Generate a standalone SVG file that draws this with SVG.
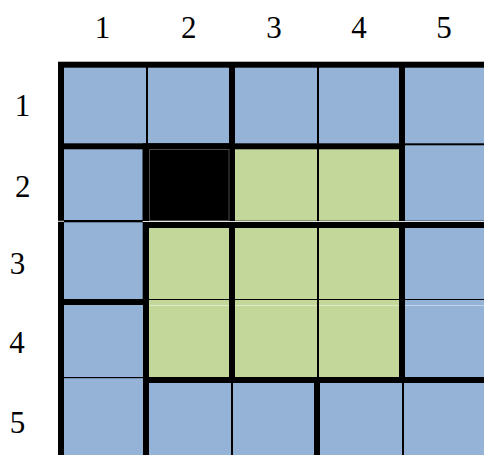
<svg xmlns="http://www.w3.org/2000/svg" width="484" height="455" viewBox="0 0 484 455">
<style>
.b{fill:#95B3D7}
.g{fill:#C4D79B}
.k{fill:#000}
.t{font-family:"Liberation Serif","Times New Roman",serif;font-size:31px;fill:#000;text-anchor:middle}
.w{fill:#fff;opacity:0.55}
</style>
<rect id="frame" x="58" y="61.7" width="426" height="393.3" fill="#000"/>
<g id="row1">
<rect id="c11" class="b" x="64" y="67.7" width="82" height="75.6"/>
<rect id="c12" class="b" x="148" y="67.7" width="81" height="75.6"/>
<rect id="c13" class="b" x="235" y="67.7" width="82" height="75.6"/>
<rect id="c14" class="b" x="319" y="67.7" width="80" height="75.6"/>
<rect id="c15" class="b" x="405" y="67.7" width="79" height="75.6"/>
</g>
<g id="row2">
<rect id="c21" class="b" x="64" y="149.3" width="78.7" height="70.7"/>
<g id="c22">
<rect class="k" x="142.7" y="143.3" width="92.3" height="78"/>
<rect x="149.5" y="149.5" width="79.5" height="71" fill="none" stroke="#4a4a4a" stroke-width="1"/>
</g>
<rect id="c23" class="g" x="235" y="149.3" width="82" height="71.4"/>
<rect id="c24" class="g" x="319" y="149.3" width="80" height="71.4"/>
<rect id="c25" class="b" x="405" y="145.3" width="79" height="75.4"/>
</g>
<g id="seams">
<rect fill="#fff" x="58" y="220.8" width="6" height="0.9"/>
<rect fill="#fff" x="142.7" y="221" width="341.3" height="0.9"/>
</g>
<g id="row3">
<rect id="c31" class="b" x="64" y="222.3" width="78.7" height="76.7"/>
<rect id="c32" class="g" x="149" y="228" width="80" height="71"/>
<rect id="c33" class="g" x="235" y="228" width="82" height="71"/>
<rect id="c34" class="g" x="319" y="228" width="80" height="71"/>
<rect id="c35" class="b" x="405" y="228" width="79" height="71"/>
</g>
<g id="row4">
<rect id="c41" class="b" x="64" y="305" width="79" height="72"/>
<rect id="c42" class="g" x="149" y="300" width="80" height="77"/>
<rect id="c43" class="g" x="235" y="300" width="82" height="77"/>
<rect id="c44" class="g" x="319" y="300" width="80" height="77"/>
<rect id="c45" class="b" x="405" y="300" width="79" height="77"/>
<rect class="w" x="149" y="305" width="80" height="0.8"/>
<rect class="w" x="235" y="305" width="82" height="0.8"/>
<rect class="w" x="319" y="305" width="80" height="0.8"/>
<rect class="w" x="405" y="305" width="79" height="0.8"/>
</g>
<g id="row5">
<rect id="c51" class="b" x="64" y="378.2" width="79" height="76.8"/>
<rect id="c52" class="b" x="149" y="383" width="82" height="72"/>
<rect id="c53" class="b" x="233" y="383" width="81" height="72"/>
<rect id="c54" class="b" x="320" y="383" width="82" height="72"/>
<rect id="c55" class="b" x="404" y="383" width="80" height="72"/>
</g>
<g id="connectors"/>
<g id="col-labels">
<text class="t" x="102.5" y="37.5">1</text>
<text class="t" x="188.8" y="37.5">2</text>
<text class="t" x="274" y="37.5">3</text>
<text class="t" x="359" y="37.5">4</text>
<text class="t" x="444" y="37.5">5</text>
</g>
<g id="row-labels">
<text class="t" x="22.5" y="116">1</text>
<text class="t" x="22.8" y="197">2</text>
<text class="t" x="17.5" y="274">3</text>
<text class="t" x="17" y="352.5">4</text>
<text class="t" x="17.5" y="432.5">5</text>
</g>
</svg>
